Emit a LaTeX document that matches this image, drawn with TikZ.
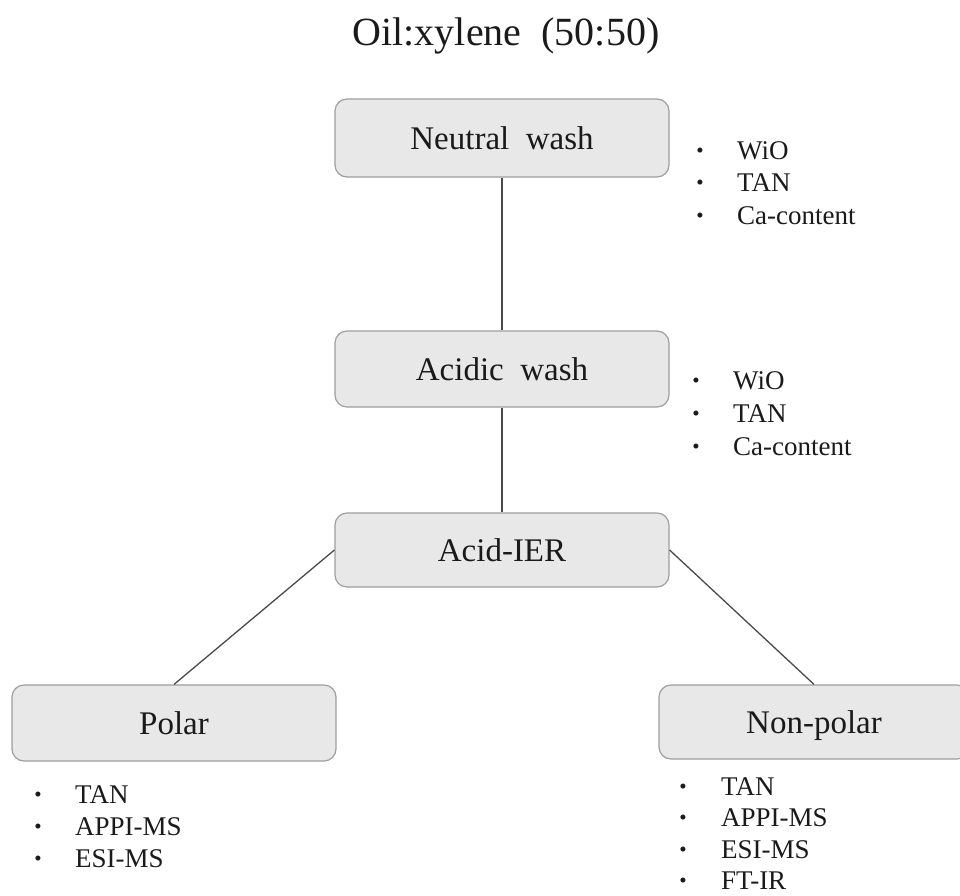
\documentclass[tikz,border=0pt]{standalone}
\usepackage{fontspec}
\setmainfont{Liberation Serif}
\definecolor{boxfill}{HTML}{E8E8E8}
\definecolor{boxline}{HTML}{9E9E9E}
\definecolor{connline}{HTML}{4A4A4A}
\definecolor{txt}{HTML}{1A1A1A}
\tikzset{
  stepbox/.style={draw=boxline, fill=boxfill, line width=1.2pt, rounded corners=12pt,
    inner sep=0pt, text=txt, font=\fontsize{33}{33}\selectfont,
    text height=23pt, text depth=0pt},
  conn/.style={draw=connline, line width=1.3pt},
  bul/.style={anchor=base, inner sep=0pt, text=txt, font=\fontsize{21}{21}\selectfont},
  itm/.style={anchor=base west, inner sep=0pt, text=txt, font=\fontsize{27}{27}\selectfont},
  ttl/.style={anchor=base, inner sep=0pt, text=txt, font=\fontsize{40}{40}\selectfont}
}
\newcommand\bulletitem[5]{%
  \node[bul] (#1b) at ({#2},{#4-2}) {•};
  \node[itm] (#1) at ({#3},{#4}) {#5};
}
\begin{document}
\begin{tikzpicture}[x=1pt,y=-1pt]
\useasboundingbox (0,0) rectangle (960,895);
\node[ttl] (title) at (506,45) {Oil:xylene~~(50:50)};

\node[stepbox, minimum width=334pt, minimum height=78pt] (neutral) at (502,138) {Neutral~~wash};
\node[stepbox, minimum width=334pt, minimum height=76pt] (acidic) at (502,369) {Acidic~~wash};
\node[stepbox, minimum width=334pt, minimum height=74pt] (ier) at (502,550) {Acid-IER};
\node[stepbox, minimum width=324pt, minimum height=76pt] (polar) at (174,723) {Polar};
\node[stepbox, minimum width=310pt, minimum height=74pt] (nonpolar) at (814,722) {Non-polar};

\draw[conn] (neutral.south) -- (acidic.north);
\draw[conn] (acidic.south) -- (ier.north);
\draw[conn] (ier.west) -- (polar.north);
\draw[conn] (ier.east) -- (nonpolar.north);

\bulletitem{na}{700}{737}{159}{WiO}
\bulletitem{nb}{700}{737}{191.5}{TAN}
\bulletitem{nc}{700}{737}{224}{Ca-content}

\bulletitem{aa}{696}{733}{389}{WiO}
\bulletitem{ab}{696}{733}{422}{TAN}
\bulletitem{ac}{696}{733}{455}{Ca-content}

\bulletitem{pa}{38}{75}{803}{TAN}
\bulletitem{pb}{38}{75}{835}{APPI-MS}
\bulletitem{pc}{38}{75}{867}{ESI-MS}

\bulletitem{qa}{683}{721}{795}{TAN}
\bulletitem{qb}{683}{721}{826.5}{APPI-MS}
\bulletitem{qc}{683}{721}{858}{ESI-MS}
\bulletitem{qd}{683}{721}{889.5}{FT-IR}
\end{tikzpicture}
\end{document}
